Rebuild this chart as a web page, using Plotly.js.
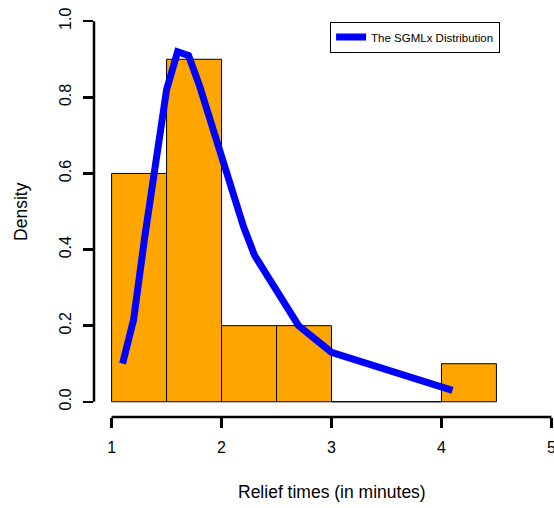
<!DOCTYPE html>
<html>
<head>
<meta charset="utf-8">
<script src="https://cdn.plot.ly/plotly-3.0.1.min.js"></script>
<style>
html, body { margin: 0; padding: 0; overflow: hidden; background: #fff; }
#chart { width: 570px; height: 508px; }
</style>
</head>
<body>
<div id="chart"></div>
<script>
// Histogram bins (midpoints) and densities
var binMids = [1.25, 1.75, 2.25, 2.75, 3.25, 3.75, 4.25];
var binDensity = [0.6, 0.9, 0.2, 0.2, 0, 0, 0.1];

// Fitted SGMLx density curve
var curveX = [1.1, 1.2, 1.3, 1.4, 1.5, 1.6, 1.7, 1.8, 1.9, 2.0, 2.1, 2.2, 2.3, 2.7, 3.0, 4.1];
var curveY = [0.10, 0.215, 0.43, 0.635, 0.82, 0.92, 0.91, 0.83, 0.74, 0.645, 0.55, 0.46, 0.385, 0.20, 0.13, 0.03];

var xTicks = [1, 2, 3, 4, 5];
var yTicks = [0, 0.2, 0.4, 0.6, 0.8, 1.0];
var yTickText = ['0.0', '0.2', '0.4', '0.6', '0.8', '1.0'];

var FONT = 'Liberation Sans, Arial, Helvetica, sans-serif';

var traces = [
  {
    type: 'bar',
    x: binMids,
    y: binDensity,
    width: 0.5,
    marker: { color: '#FFA500', line: { color: '#000000', width: 1 } },
    showlegend: false,
    hoverinfo: 'skip'
  },
  {
    type: 'scatter',
    mode: 'lines',
    x: curveX,
    y: curveY,
    name: 'The SGMLx Distribution',
    line: { color: '#0000FF', width: 7 }
  }
];

var layout = {
  width: 570,
  height: 508,
  margin: { l: 94, r: 1, t: 6, b: 91 },
  paper_bgcolor: '#ffffff',
  plot_bgcolor: '#ffffff',
  font: { family: FONT, size: 16, color: '#000000' },
  bargap: 0,
  xaxis: {
    range: [0.84, 5.16],
    tickvals: xTicks,
    ticktext: xTicks.map(String),
    ticks: 'outside',
    ticklen: 10,
    tickwidth: 2.5,
    tickcolor: '#000',
    showline: false,
    showgrid: false,
    zeroline: false,
    tickfont: { family: FONT, size: 16 },
    ticklabelstandoff: 6
  },
  yaxis: {
    range: [-0.04, 1.04],
    tickvals: yTicks,
    ticktext: yTickText,
    tickangle: -90,
    ticks: 'outside',
    ticklen: 10,
    tickwidth: 2.5,
    tickcolor: '#000',
    showline: false,
    showgrid: false,
    zeroline: false,
    tickfont: { family: FONT, size: 16 },
    ticklabelstandoff: 6
  },
  shapes: [
    { type: 'line', xref: 'x', yref: 'paper', x0: 1, x1: 5, y0: 0, y1: 0,
      line: { color: '#000', width: 2.5 } },
    { type: 'line', xref: 'paper', yref: 'y', x0: 0, x1: 0, y0: 0, y1: 1,
      line: { color: '#000', width: 2.5 } }
  ],
  annotations: [
    { text: 'Relief times (in minutes)', xref: 'paper', yref: 'paper',
      x: 0.5, y: -0.1825, xanchor: 'center', yanchor: 'middle', showarrow: false,
      font: { family: FONT, size: 17.5 } },
    { text: 'Density', xref: 'paper', yref: 'paper',
      x: -0.155, y: 0.5, xanchor: 'center', yanchor: 'middle', showarrow: false,
      textangle: -90, font: { family: FONT, size: 17.5 } }
  ],
  legend: {
    x: 0.497, y: 0.962, xanchor: 'left', yanchor: 'top',
    bordercolor: '#000', borderwidth: 1, bgcolor: '#fff',
    font: { family: FONT, size: 11.5 }
  }
};

Plotly.newPlot('chart', traces, layout, { displayModeBar: false, staticPlot: true });
</script>
</body>
</html>
